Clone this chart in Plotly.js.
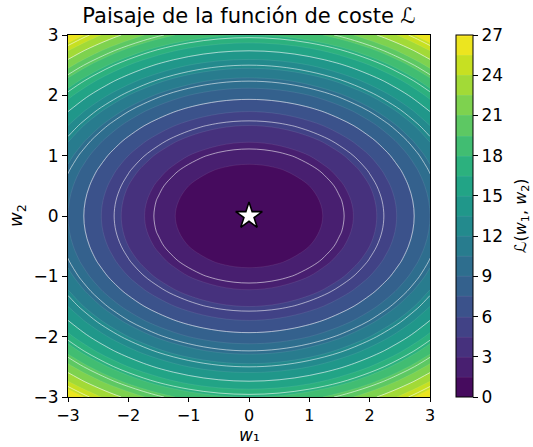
<!DOCTYPE html>
<html>
<head>
<meta charset="utf-8">
<script src="https://cdn.plot.ly/plotly-3.0.1.min.js"></script>
<style>html,body{margin:0;padding:0;background:#fff;}#chart{width:533px;height:447px;}</style>
</head>
<body>
<div id="chart"></div>
<script>
// grid coordinates (w1 columns, w2 rows)
const w1 = [-3, -2.75, -2.5, -2.25, -2, -1.75, -1.5, -1.25, -1, -0.75, -0.5, -0.25, 0,
            0.25, 0.5, 0.75, 1, 1.25, 1.5, 1.75, 2, 2.25, 2.5, 2.75, 3];
const w2 = [-3, -2.75, -2.5, -2.25, -2, -1.75, -1.5, -1.25, -1, -0.75, -0.5, -0.25, 0,
            0.25, 0.5, 0.75, 1, 1.25, 1.5, 1.75, 2, 2.25, 2.5, 2.75, 3];
// cost values L(w1, w2) along each grid row (row named by |w2|)
const rowW2_000 = [9, 7.5625, 6.25, 5.0625, 4, 3.0625, 2.25, 1.5625, 1, 0.5625, 0.25, 0.0625, 0, 0.0625, 0.25, 0.5625, 1, 1.5625, 2.25, 3.0625, 4, 5.0625, 6.25, 7.5625, 9];
const rowW2_025 = [9.125, 7.6875, 6.375, 5.1875, 4.125, 3.1875, 2.375, 1.6875, 1.125, 0.6875, 0.375, 0.1875, 0.125, 0.1875, 0.375, 0.6875, 1.125, 1.6875, 2.375, 3.1875, 4.125, 5.1875, 6.375, 7.6875, 9.125];
const rowW2_050 = [9.5, 8.0625, 6.75, 5.5625, 4.5, 3.5625, 2.75, 2.0625, 1.5, 1.0625, 0.75, 0.5625, 0.5, 0.5625, 0.75, 1.0625, 1.5, 2.0625, 2.75, 3.5625, 4.5, 5.5625, 6.75, 8.0625, 9.5];
const rowW2_075 = [10.125, 8.6875, 7.375, 6.1875, 5.125, 4.1875, 3.375, 2.6875, 2.125, 1.6875, 1.375, 1.1875, 1.125, 1.1875, 1.375, 1.6875, 2.125, 2.6875, 3.375, 4.1875, 5.125, 6.1875, 7.375, 8.6875, 10.125];
const rowW2_100 = [11, 9.5625, 8.25, 7.0625, 6, 5.0625, 4.25, 3.5625, 3, 2.5625, 2.25, 2.0625, 2, 2.0625, 2.25, 2.5625, 3, 3.5625, 4.25, 5.0625, 6, 7.0625, 8.25, 9.5625, 11];
const rowW2_125 = [12.125, 10.6875, 9.375, 8.1875, 7.125, 6.1875, 5.375, 4.6875, 4.125, 3.6875, 3.375, 3.1875, 3.125, 3.1875, 3.375, 3.6875, 4.125, 4.6875, 5.375, 6.1875, 7.125, 8.1875, 9.375, 10.6875, 12.125];
const rowW2_150 = [13.5, 12.0625, 10.75, 9.5625, 8.5, 7.5625, 6.75, 6.0625, 5.5, 5.0625, 4.75, 4.5625, 4.5, 4.5625, 4.75, 5.0625, 5.5, 6.0625, 6.75, 7.5625, 8.5, 9.5625, 10.75, 12.0625, 13.5];
const rowW2_175 = [15.125, 13.6875, 12.375, 11.1875, 10.125, 9.1875, 8.375, 7.6875, 7.125, 6.6875, 6.375, 6.1875, 6.125, 6.1875, 6.375, 6.6875, 7.125, 7.6875, 8.375, 9.1875, 10.125, 11.1875, 12.375, 13.6875, 15.125];
const rowW2_200 = [17, 15.5625, 14.25, 13.0625, 12, 11.0625, 10.25, 9.5625, 9, 8.5625, 8.25, 8.0625, 8, 8.0625, 8.25, 8.5625, 9, 9.5625, 10.25, 11.0625, 12, 13.0625, 14.25, 15.5625, 17];
const rowW2_225 = [19.125, 17.6875, 16.375, 15.1875, 14.125, 13.1875, 12.375, 11.6875, 11.125, 10.6875, 10.375, 10.1875, 10.125, 10.1875, 10.375, 10.6875, 11.125, 11.6875, 12.375, 13.1875, 14.125, 15.1875, 16.375, 17.6875, 19.125];
const rowW2_250 = [21.5, 20.0625, 18.75, 17.5625, 16.5, 15.5625, 14.75, 14.0625, 13.5, 13.0625, 12.75, 12.5625, 12.5, 12.5625, 12.75, 13.0625, 13.5, 14.0625, 14.75, 15.5625, 16.5, 17.5625, 18.75, 20.0625, 21.5];
const rowW2_275 = [24.125, 22.6875, 21.375, 20.1875, 19.125, 18.1875, 17.375, 16.6875, 16.125, 15.6875, 15.375, 15.1875, 15.125, 15.1875, 15.375, 15.6875, 16.125, 16.6875, 17.375, 18.1875, 19.125, 20.1875, 21.375, 22.6875, 24.125];
const rowW2_300 = [27, 25.5625, 24.25, 23.0625, 22, 21.0625, 20.25, 19.5625, 19, 18.5625, 18.25, 18.0625, 18, 18.0625, 18.25, 18.5625, 19, 19.5625, 20.25, 21.0625, 22, 23.0625, 24.25, 25.5625, 27];
// minimum marker
const minW1 = [0];
const minW2 = [0];
// ticks
const axisTicks = [-3, -2, -1, 0, 1, 2, 3];
const cbarTicks = [0, 3, 6, 9, 12, 15, 18, 21, 24, 27];

// matrix assembled from the rows, bottom (w2 = -3) to top (w2 = 3)
const costL = [rowW2_300, rowW2_275, rowW2_250, rowW2_225, rowW2_200, rowW2_175, rowW2_150, rowW2_125,
               rowW2_100, rowW2_075, rowW2_050, rowW2_025, rowW2_000, rowW2_025, rowW2_050, rowW2_075,
               rowW2_100, rowW2_125, rowW2_150, rowW2_175, rowW2_200, rowW2_225, rowW2_250, rowW2_275, rowW2_300];

const font = 'DejaVu Sans, sans-serif';

const traces = [
  {
    type: 'contour', x: w1, y: w2, z: costL,
    zmin: 0, zmax: 27, zauto: false,
    colorscale: 'Viridis',
    autocontour: false,
    contours: {start: 0, end: 27, size: 1.5, coloring: 'fill'},
    line: {color: 'rgba(255,255,255,0.14)', width: 0.6, smoothing: 1},
    colorbar: {
      x: 1.0718, xanchor: 'left', xpad: 0,
      y: 0, yanchor: 'bottom', len: 1, lenmode: 'fraction', ypad: 0,
      thickness: 17, thicknessmode: 'pixels',
      outlinecolor: '#000', outlinewidth: 1,
      tickmode: 'array', tickvals: cbarTicks, ticktext: cbarTicks.map(String),
      ticks: 'outside', ticklen: 5, tickcolor: '#000',
      tickfont: {family: font, size: 17, color: '#000'}
    },
    hoverinfo: 'skip'
  },
  {
    type: 'contour', x: w1, y: w2, z: costL,
    autocontour: false,
    contours: {start: 2.5, end: 25, size: 2.5, coloring: 'none'},
    line: {color: 'rgba(255,255,255,0.55)', width: 1, smoothing: 1},
    showscale: false, hoverinfo: 'skip'
  },
  {
    type: 'scatter', mode: 'markers', x: minW1, y: minW2,
    marker: {symbol: 'star', size: 20, color: '#fff', line: {color: '#000', width: 1.6}},
    hoverinfo: 'skip', showlegend: false
  }
];

const axisCommon = {
  range: [-3, 3], tickmode: 'array', tickvals: axisTicks,
  ticks: 'outside', ticklen: 5, tickwidth: 1, tickcolor: '#000',
  showline: true, linecolor: '#000', linewidth: 1, mirror: true,
  showgrid: false, zeroline: false,
  tickfont: {family: font, size: 17, color: '#000'}
};

const layout = {
  width: 533, height: 447,
  margin: {l: 68, r: 103, t: 35, b: 50, pad: 0},
  paper_bgcolor: '#fff', plot_bgcolor: '#fff',
  showlegend: false,
  title: {text: 'Paisaje de la función de coste ℒ', x: 249/533, xanchor: 'center', y: 1 - 16/447, yanchor: 'middle',
          font: {family: font, size: 21, color: '#000'}},
  xaxis: Object.assign({}, axisCommon, {ticklen: 4, tickfont: {family: font, size: 16, color: '#000'}}),
  yaxis: Object.assign({}, axisCommon),
  annotations: [
    {
      text: '<i>w</i>₁',
      xref: 'paper', yref: 'paper', x: 0.5, y: (397 - 447) / 362,
      xanchor: 'center', yanchor: 'bottom', showarrow: false,
      font: {family: font, size: 17, color: '#000'}
    },
    {
      text: '<i>w</i><sub>2</sub>',
      xref: 'paper', yref: 'paper', x: (17 - 68) / 362, y: 0.5,
      xanchor: 'center', yanchor: 'middle', textangle: -90, showarrow: false,
      font: {family: font, size: 18, color: '#000'}
    },
    {
      text: 'ℒ(<i>w</i><sub>1</sub>, <i>w</i><sub>2</sub>)',
      xref: 'paper', yref: 'paper', x: (521 - 68) / 362, y: 0.5,
      xanchor: 'center', yanchor: 'middle', textangle: -90, showarrow: false,
      font: {family: font, size: 16, color: '#000'}
    }
  ]
};

Plotly.newPlot('chart', traces, layout, {displayModeBar: false, staticPlot: true});
</script>
</body>
</html>
